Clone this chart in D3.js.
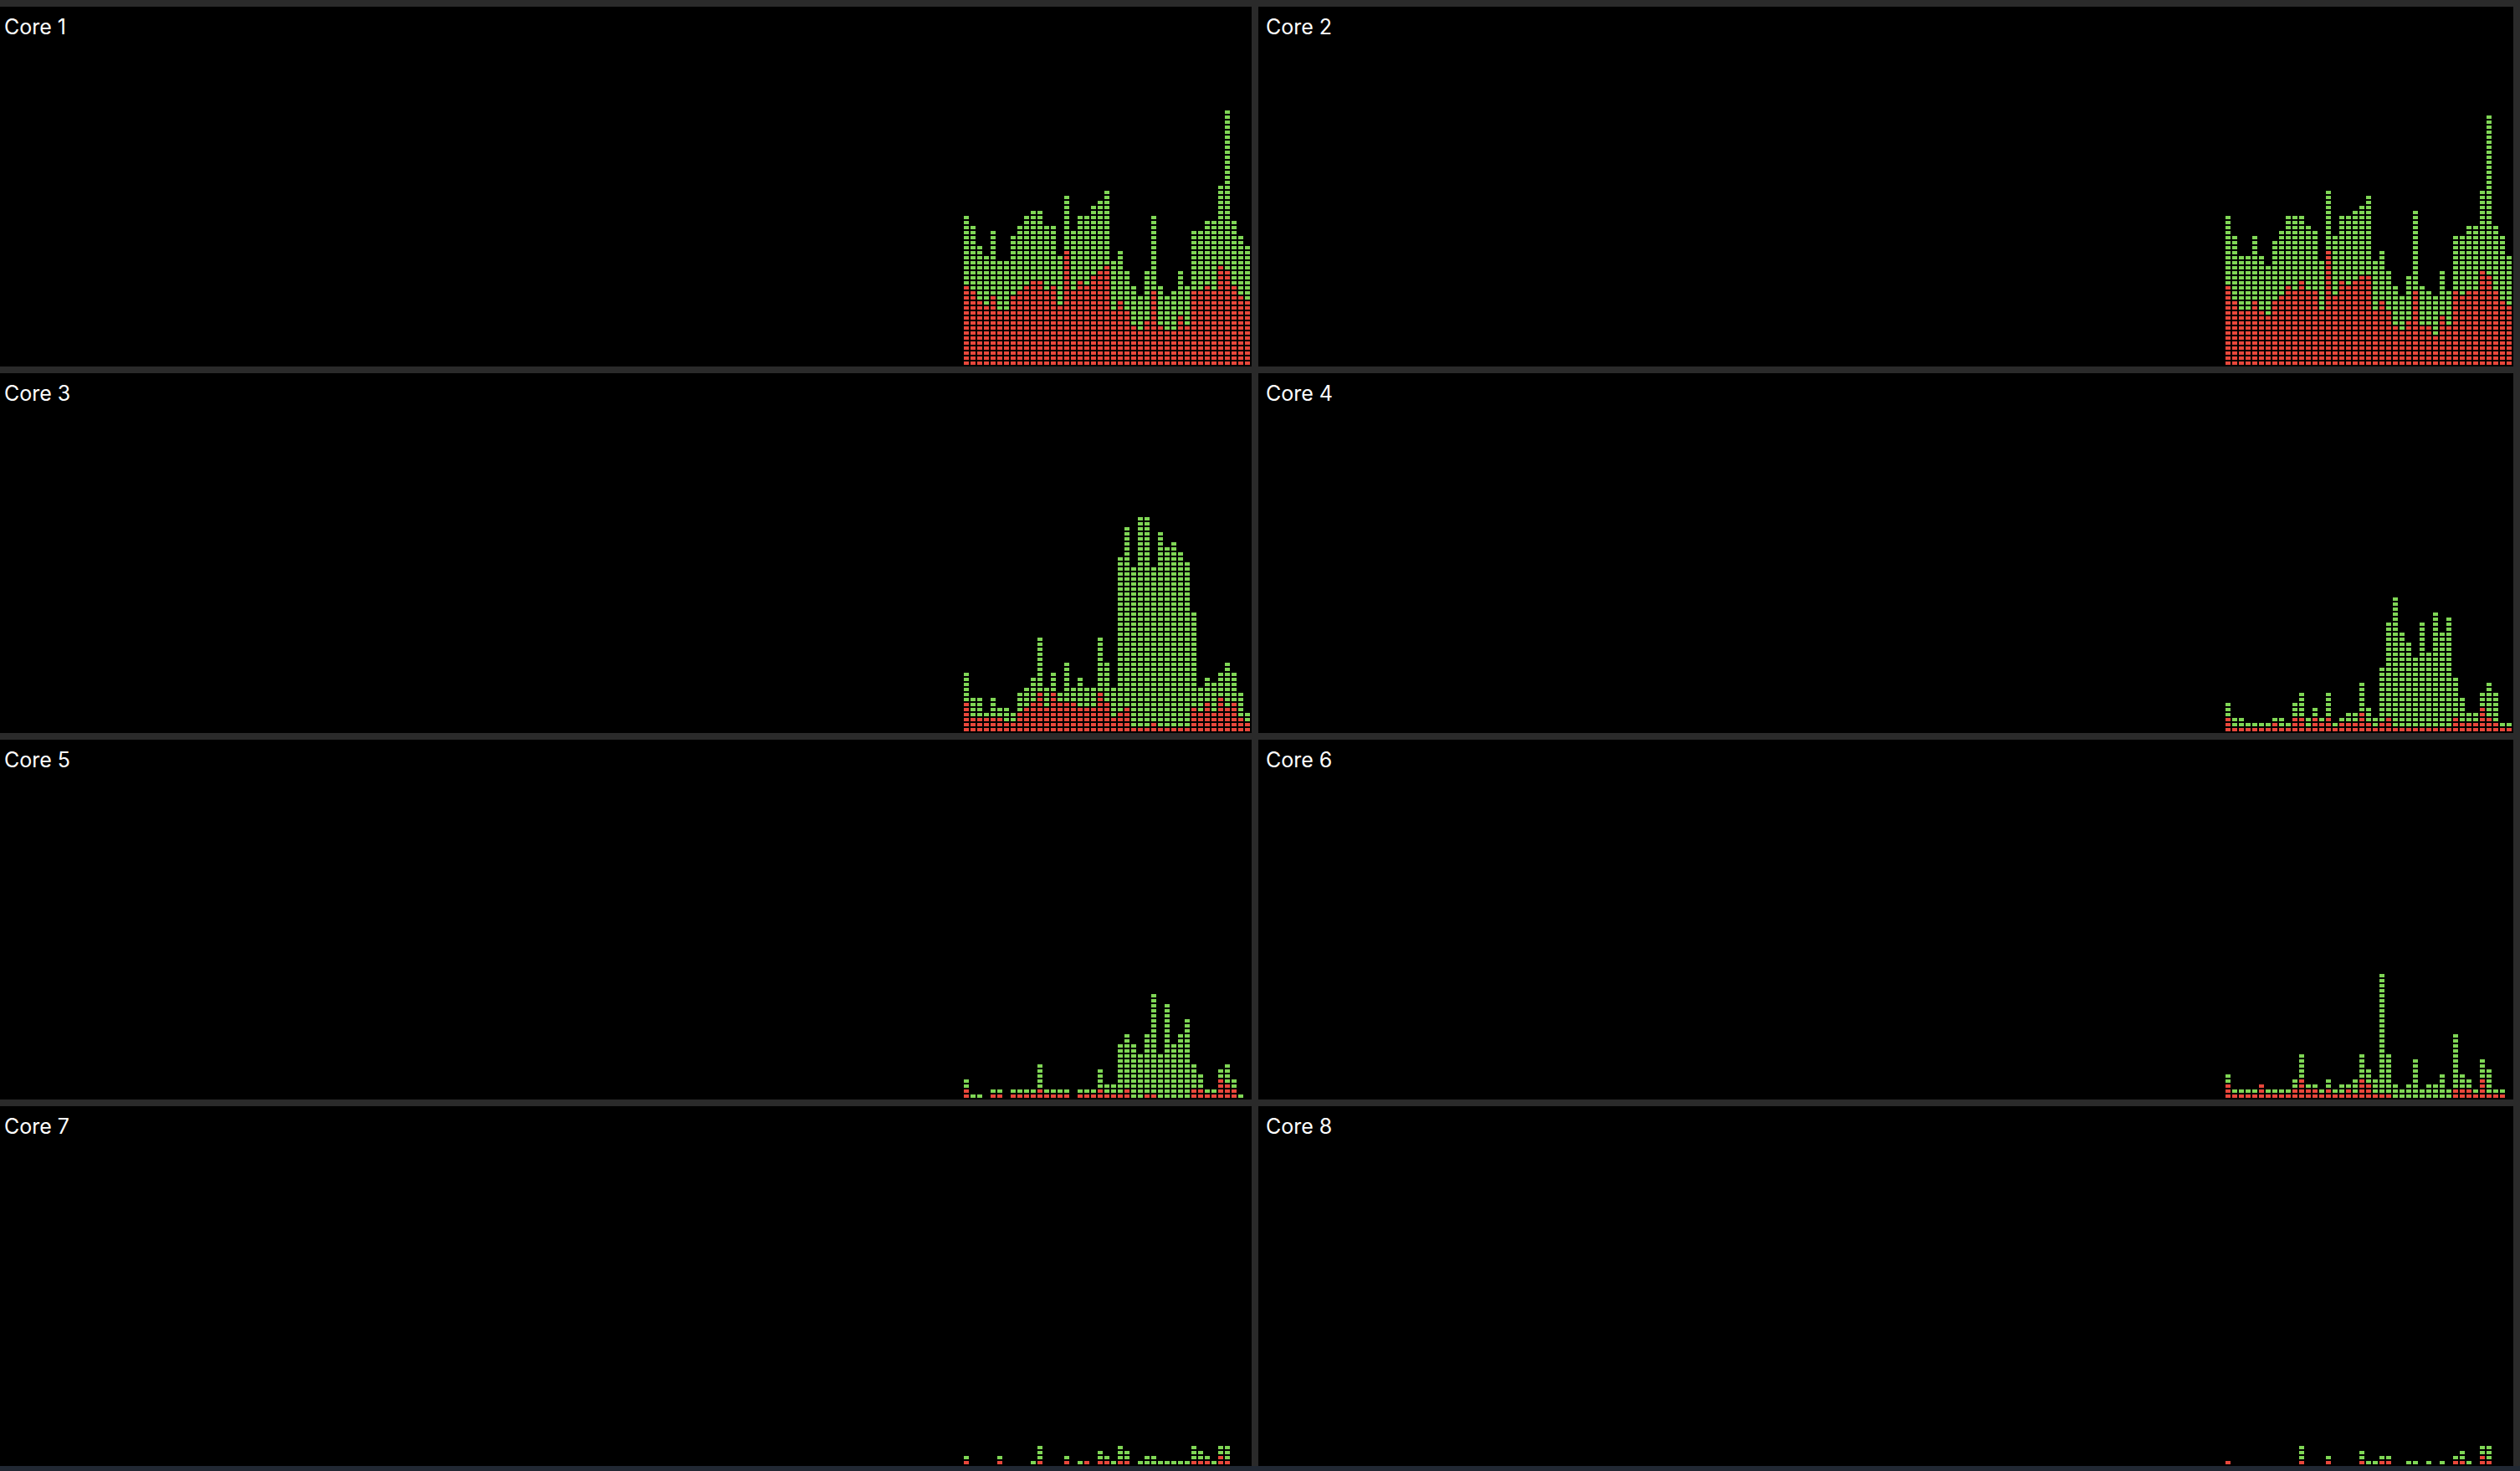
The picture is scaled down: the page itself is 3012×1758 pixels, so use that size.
<!DOCTYPE html>
<html>
<head>
<meta charset="utf-8">
<script src="https://cdn.jsdelivr.net/npm/d3@7"></script>
<style>
    html, body { margin: 0; padding: 0; background: #2a2a2a; }
    svg { display: block; }
    .core-label { font-family: Inter, 'Liberation Sans', sans-serif; font-size: 25px; fill: #ffffff; }
</style>
</head>
<body>
<div id="svg-container"></div>
<script>
// meter values, in lit segments per sample (oldest -> newest)
const coreNames = ['Core 1', 'Core 2', 'Core 3', 'Core 4', 'Core 5', 'Core 6', 'Core 7', 'Core 8'];

const core1Sys  = [16,15,13,12,14,11,11,14,15,16,17,17,15,16,12,23,15,17,16,18,19,20,11,13,11,8,7,9,15,8,7,7,10,8,15,15,16,15,20,19,16,14,13];
const core1User = [14,13,11,10,13,10,10,12,13,14,14,14,13,12,10,11,12,13,14,14,14,15,10,10,8,8,7,10,15,8,7,8,9,8,12,12,13,14,16,32,13,12,11];

const core2Sys  = [16,13,11,11,13,11,10,13,14,16,15,17,15,15,11,23,14,17,16,17,18,18,11,13,11,8,7,9,15,8,8,6,10,8,15,14,15,15,19,18,15,13,12];
const core2User = [14,13,11,11,13,11,10,12,13,14,15,13,13,12,10,12,12,13,14,14,14,16,10,10,8,8,7,9,16,8,7,8,9,7,11,12,13,13,16,32,13,13,10];

const core3Sys  = [6,3,3,3,3,3,2,2,4,5,6,8,5,8,6,6,6,5,5,5,8,6,3,4,5,1,1,1,2,1,1,1,1,1,5,4,6,4,7,5,6,3,2];
const core3User = [6,4,4,1,4,2,3,2,4,4,5,11,4,4,2,8,3,6,4,4,11,8,6,31,36,32,42,42,31,39,36,37,35,33,19,5,5,6,5,9,6,5,2];

const core4Sys  = [3,1,1,1,1,1,1,2,1,1,3,3,1,3,2,3,1,2,2,2,4,2,1,2,3,1,1,1,1,1,1,1,1,1,3,2,2,2,5,3,2,1,1];
const core4User = [3,2,2,1,1,1,1,1,2,1,3,5,2,2,1,5,1,1,2,2,6,3,2,11,19,26,19,17,14,21,15,23,19,22,8,5,2,2,3,7,6,1,1];

const core5Sys  = [2,0,0,0,1,1,0,1,1,1,1,2,1,1,1,1,0,1,1,1,2,1,1,1,2,0,0,1,1,0,0,0,0,0,2,2,1,1,4,3,2,0,0];
const core5User = [2,1,1,0,1,1,0,1,1,1,1,5,1,1,1,1,0,1,1,1,4,2,2,10,11,11,9,12,20,9,19,11,13,16,5,3,1,1,2,4,2,1,0];

const core6Sys  = [3,1,1,1,1,3,1,1,1,1,2,4,2,2,1,2,1,1,2,1,4,3,1,1,1,0,0,0,0,0,0,0,0,0,2,2,2,1,4,1,1,1,0];
const core6User = [2,1,1,1,1,0,1,1,1,1,2,5,1,1,1,2,1,2,1,3,5,3,3,24,8,3,2,3,8,2,3,3,5,2,11,3,2,1,4,5,1,1,0];

const core7Sys  = [1,0,0,0,0,1,0,0,0,0,0,1,0,0,0,1,0,0,1,0,1,1,0,1,1,0,0,0,0,0,0,0,0,0,1,1,1,0,2,1,0,0,0];
const core7User = [1,0,0,0,0,1,0,0,0,0,1,3,0,0,0,1,0,1,0,0,2,1,1,3,2,0,1,2,2,1,1,1,1,1,3,2,1,1,2,3,0,0,0];

const core8Sys  = [1,0,0,0,0,0,0,0,0,0,0,1,0,0,0,1,0,0,0,0,1,0,0,1,1,0,0,0,0,0,0,0,0,0,1,1,0,0,2,1,0,0,0];
const core8User = [0,0,0,0,0,0,0,0,0,0,0,3,0,0,0,1,0,0,0,0,2,1,1,1,1,0,0,1,1,0,1,0,1,0,1,2,1,0,2,3,0,0,0];

const sysSeries  = [core1Sys, core2Sys, core3Sys, core4Sys, core5Sys, core6Sys, core7Sys, core8Sys];
const userSeries = [core1User, core2User, core3User, core4User, core5User, core6User, core7User, core8User];

const WIDTH = 3012;
const HEIGHT = 1758;
const HISTORY = 187;      // slots across a panel
const SEGMENTS = 71;      // segments in a full-height column
const STEP_X = 8;
const STEP_Y = 6;
const CELL_W = 6;
const CELL_H = 4;
const COLORS = { sys: '#e9473b', user: '#7fd655' };

const panelXs = [-4, 1504];
const PANEL_W = 1500;
const PANEL_H = 430;
const PANEL_TOP = 8;
const ROW_STEP = 438;

const renderCore = (svg, i) => {
    const px = panelXs[i % 2];
    const py = PANEL_TOP + Math.floor(i / 2) * ROW_STEP;
    const g = svg.append('g').attr('class', 'core');

    g.append('rect')
        .attr('x', px)
        .attr('y', py)
        .attr('width', PANEL_W)
        .attr('height', PANEL_H)
        .attr('fill', '#000');

    const rows = sysSeries[i].map((s, k) => ({ slot: HISTORY - sysSeries[i].length + k, sys: s, user: userSeries[i][k] }));
    const layers = d3.stack().keys(['sys', 'user'])(rows);

    const right = px + PANEL_W;
    const x = d3.scaleLinear().domain([0, HISTORY]).range([right - HISTORY * STEP_X, right]);
    const bottom = py + PANEL_H - 2;
    const y = d3.scaleLinear().domain([0, SEGMENTS]).range([bottom, bottom - SEGMENTS * STEP_Y]);

    // explode every stacked layer into single lit segments
    const cells = [];
    layers.forEach(layer => {
        layer.forEach(d => {
            for (let k = d[0]; k < d[1]; k++) {
                cells.push({ key: layer.key, slot: d.data.slot, k });
            }
        });
    });

    g.selectAll('rect.seg')
        .data(cells)
        .join('rect')
        .attr('class', 'seg')
        .attr('x', d => x(d.slot))
        .attr('y', d => y(d.k + 1) + (STEP_Y - CELL_H))
        .attr('width', CELL_W)
        .attr('height', CELL_H)
        .attr('fill', d => COLORS[d.key]);

    g.append('text')
        .attr('class', 'core-label')
        .attr('x', px + 9)
        .attr('y', py + 33)
        .text(coreNames[i]);
};

const startApp = () => {
    const svg = d3.select('#svg-container')
        .append('svg')
        .attr('width', WIDTH)
        .attr('height', HEIGHT);

    svg.append('rect')
        .attr('width', WIDTH)
        .attr('height', HEIGHT)
        .attr('fill', '#2a2a2a');

    // window bottom edge
    svg.append('rect')
        .attr('x', 0)
        .attr('y', 1752)
        .attr('width', WIDTH)
        .attr('height', 6)
        .attr('fill', '#212833');

    coreNames.forEach((name, i) => renderCore(svg, i));
};

startApp();
</script>
</body>
</html>
